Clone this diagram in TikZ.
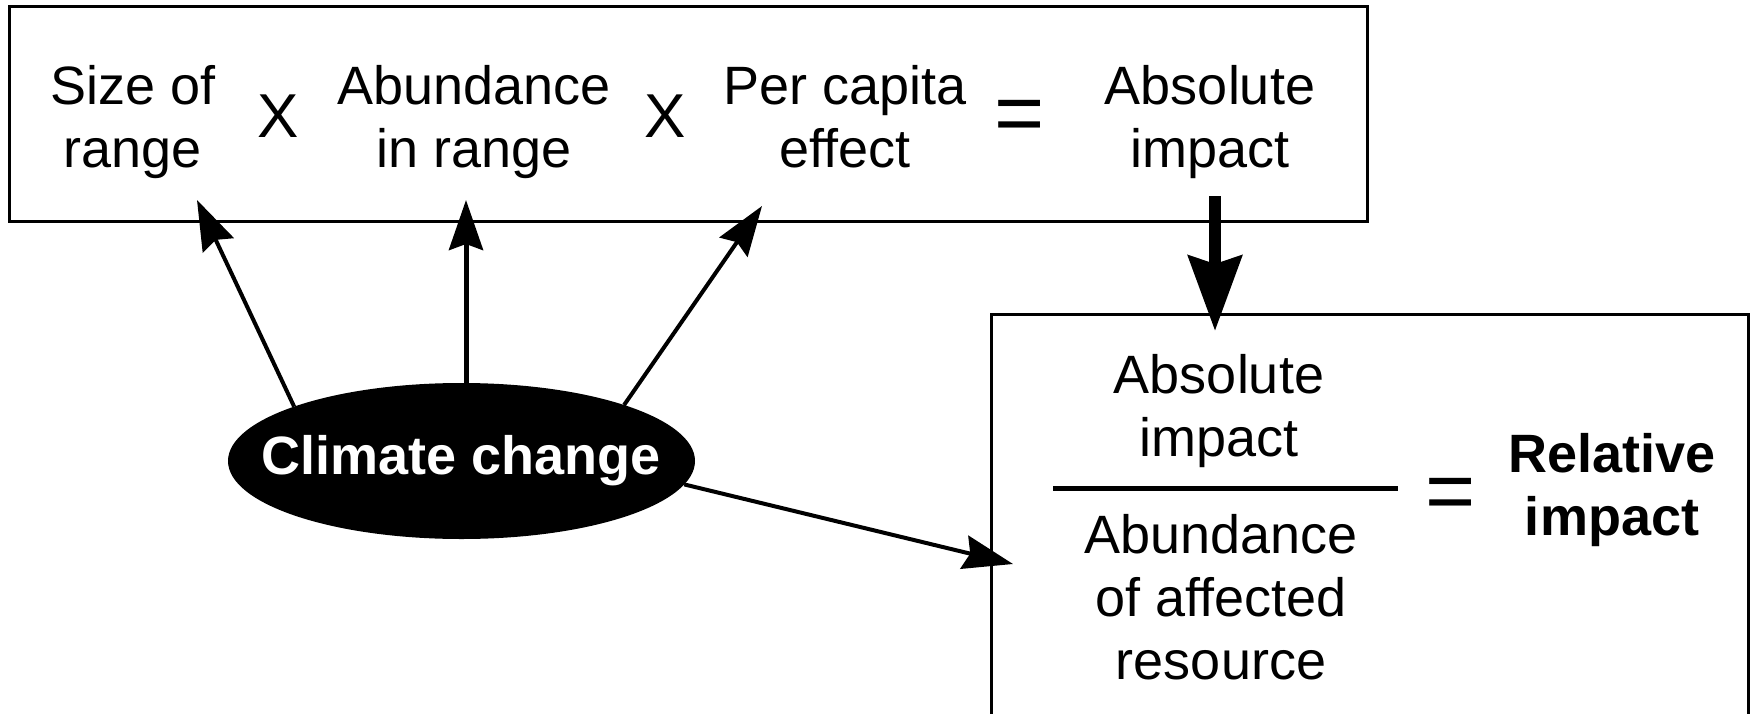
\documentclass[tikz,border=0pt]{standalone}
\usepackage{fontspec}
\setmainfont{Liberation Sans}
\usetikzlibrary{shapes.geometric,arrows.meta}
% centred multi-line text whose baseline is that of the first line
\newcommand{\mlines}[1]{\begin{tabular}[t]{@{}c@{}}#1\end{tabular}}

\begin{document}
\begin{tikzpicture}[x=1pt,y=-1pt,
  every node/.style={inner sep=0pt, outer sep=0pt},
  txt/.style={anchor=base, font=\fontsize{54}{63}\selectfont},
  boldtxt/.style={anchor=base, font=\fontsize{54}{63}\selectfont\bfseries},
  timesign/.style={anchor=base, font=\fontsize{62}{70}\selectfont},
  eqsign/.style={anchor=base, font=\fontsize{86}{90}\selectfont},
  frame/.style={draw, line width=3pt, rectangle},
  thinarrow/.style={line width=4pt, -{Stealth[length=50pt,width=34pt,inset=6pt]}},
  heavyarrow/.style={line width=12pt, -{Stealth[length=75pt,width=53pt,inset=8pt]}}
]
\clip (0,0) rectangle (1752,714);
\fill[white] (0,0) rectangle (1752,714);

% boxes
\node[frame, minimum width=1358pt, minimum height=214pt] (topbox) at (688,114) {};
\node[frame, minimum width=757pt, minimum height=450pt] (botbox) at (1369.5,539) {};

% product of factors
\node[txt] (size) at (133,105) {\mlines{Size of\\range}};
\node[timesign] (x1) at (278,138) {X};
\node[txt] (abund) at (474,105) {\mlines{Abundance\\in range}};
\node[timesign] (x2) at (665,138) {X};
\node[txt] (percap) at (845,105) {\mlines{Per capita\\effect}};
\node[eqsign] (eq1) at (1020,143) {=};
\node[txt] (absimp) at (1210,105) {\mlines{Absolute\\impact}};

% ratio
\node[txt] (num) at (1219,393) {\mlines{Absolute\\impact}};
\node[txt] (den) at (1221,553) {\mlines{Abundance\\of affected\\resource}};
\coordinate (fracL) at (1053,488);
\coordinate (fracR) at (1398,488);
\draw[line width=5pt] (fracL) -- (fracR);
\node[eqsign] (eq2) at (1451,520) {=};
\node[boldtxt] (rel) at (1612,472) {\mlines{Relative\\impact}};

% driver: the ellipse keeps its own size, the label overhangs nothing
\node[ellipse, fill=black, minimum width=467pt, minimum height=156pt,
      text=white, font=\fontsize{54}{63}\selectfont\bfseries] (cc) at (461.5,461)
      {\makebox[0pt][c]{Climate change}};

% arrow ends
\coordinate (tipSize) at (197,200);
\coordinate (tipAbund) at (466,200);
\coordinate (tipPer) at (762,206);
\coordinate (tipRatio) at (1013,564);
\coordinate (absFrom) at (1215,196);
\coordinate (absTo) at (1215,331);

\draw[thinarrow] (cc.162) -- (tipSize);
\draw[thinarrow, line width=5pt] (tipAbund |- cc.north) -- (tipAbund);
\draw[thinarrow] (cc.19) -- (tipPer);
\draw[thinarrow] (cc.-6) -- (tipRatio);
\draw[heavyarrow] (absFrom) -- (absTo);
\end{tikzpicture}
\end{document}
